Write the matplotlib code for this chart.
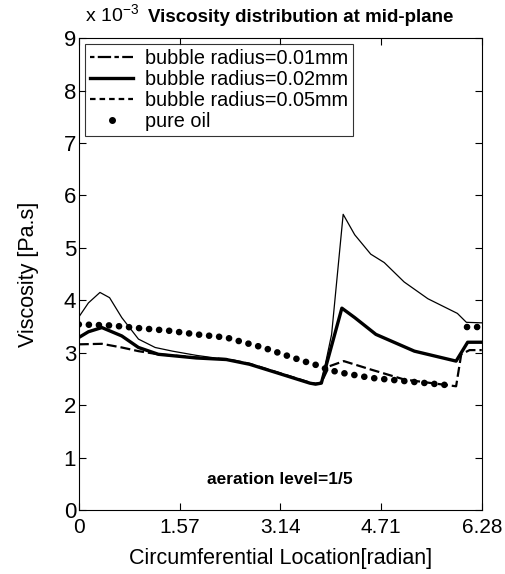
import numpy as np
import matplotlib
matplotlib.use("Agg")
import matplotlib.pyplot as plt
from matplotlib.lines import Line2D

plt.rcParams.update({
    "font.family": ["Liberation Sans", "DejaVu Sans"],
    "mathtext.fontset": "custom", "mathtext.rm": "Liberation Sans",
})

# viscosity in units of 1e-3 Pa.s, location in radian
x_r01 = [0, 0.15, 0.33, 0.48, 0.67, 0.93, 1.19, 1.46, 1.83, 2.3, 2.66, 3.08, 3.6, 3.72,
         3.78, 3.94, 4.12, 4.3, 4.55, 4.76, 5.07, 5.44, 5.9, 6.04, 6.28]
y_r01 = [3.68, 3.95, 4.15, 4.05, 3.67, 3.26, 3.1, 3.03, 2.95, 2.87, 2.79, 2.63, 2.43, 2.40,
         2.42, 3.35, 5.64, 5.25, 4.88, 4.72, 4.35, 4.03, 3.75, 3.58, 3.57]

x_r02 = [0, 0.15, 0.36, 0.67, 0.93, 1.24, 1.83, 2.3, 2.66, 3.08, 3.6, 3.69, 3.78, 4.10,
         4.3, 4.63, 5.23, 5.88, 6.06, 6.28]
y_r02 = [3.29, 3.40, 3.48, 3.32, 3.1, 2.97, 2.9, 2.87, 2.78, 2.62, 2.42, 2.40, 2.42, 3.85,
         3.67, 3.35, 3.03, 2.84, 3.2, 3.2]

x_r05 = [0, 0.36, 0.67, 0.93, 1.24, 1.83, 2.3, 2.66, 3.08, 3.6, 3.69, 3.78, 3.9, 4.13,
         4.55, 5.07, 5.5, 5.88, 5.96, 6.09, 6.28]
y_r05 = [3.16, 3.17, 3.1, 3.03, 2.97, 2.91, 2.88, 2.79, 2.63, 2.43, 2.41, 2.43, 2.74, 2.84,
         2.68, 2.49, 2.42, 2.36, 2.97, 3.05, 3.05]

x_oil = [0, 0.5, 0.93, 1.4, 1.83, 2.3, 2.56, 2.87, 3.18, 3.5, 3.77, 3.87, 4.08, 4.55,
         5.07, 5.5, 5.85, np.nan, 6.05, 6.28]
y_oil = [3.54, 3.52, 3.47, 3.42, 3.35, 3.29, 3.2, 3.1, 2.97, 2.84, 2.74, 2.68, 2.62, 2.52,
         2.46, 2.41, 2.37, np.nan, 3.49, 3.49]

labels = ["bubble radius=0.01mm", "bubble radius=0.02mm",
          "bubble radius=0.05mm", "pure oil"]
xticks = [0, 1.57, 3.14, 4.71, 6.28]
xticklabels = ["0", "1.57", "3.14", "4.71", "6.28"]

fig = plt.figure(figsize=(5.05, 5.74), dpi=100)
ax = fig.add_axes([0.156, 0.1115, 0.798, 0.822])

ax.plot(x_r01, y_r01, color="k", lw=0.9)
ax.plot(x_r02, y_r02, color="k", lw=2.4)
ax.plot(x_r05, y_r05, color="k", lw=1.6, ls=(0, (4.5, 1.8)))
ax.plot(x_oil, y_oil, color="k", lw=4.8, ls=(0, (0.01, 1.5)),
        dash_capstyle="round")

ax.set_xlim(0, 6.28)
ax.set_ylim(0, 9)
ax.set_xticks(xticks)
ax.set_xticklabels(xticklabels, fontsize=15)
ax.set_yticks(range(10))
ax.tick_params(axis="y", labelsize=16, pad=2)
ax.tick_params(direction="in", length=5, top=True, right=True)
ax.tick_params(axis="x", pad=6)

ax.set_xlabel("Circumferential Location[radian]", fontsize=15.5, labelpad=8)
ax.set_ylabel("Viscosity [Pa.s]", fontsize=15.5, labelpad=18)

handles = [
    Line2D([], [], color="k", lw=1.6, ls=(0, (2, 1.5, 6, 1.5))),
    Line2D([], [], color="k", lw=2.4),
    Line2D([], [], color="k", lw=1.6, ls=(0, (2.5, 1.8))),
    Line2D([], [], color="k", ls="none", marker="o", ms=4),
]
leg = ax.legend(handles, labels, loc="upper left", fontsize=14.3, frameon=True,
                fancybox=False, edgecolor="k", handlelength=2.2, handletextpad=0.6,
                labelspacing=0.1, borderpad=0.25, borderaxespad=0.3)
leg.get_frame().set_linewidth(0.8)

fig.text(0.168, 0.955, r"x 10$^{-3}$", fontsize=14, ha="left", va="bottom")
fig.text(0.595, 0.955, "Viscosity distribution at mid-plane", fontsize=13.5,
         fontweight="bold", ha="center", va="bottom")
ax.text(0.5, 0.065, "aeration level=1/5", transform=ax.transAxes, fontsize=12.5,
        fontweight="bold", ha="center", va="center")

fig.savefig("out.png", dpi=100)
